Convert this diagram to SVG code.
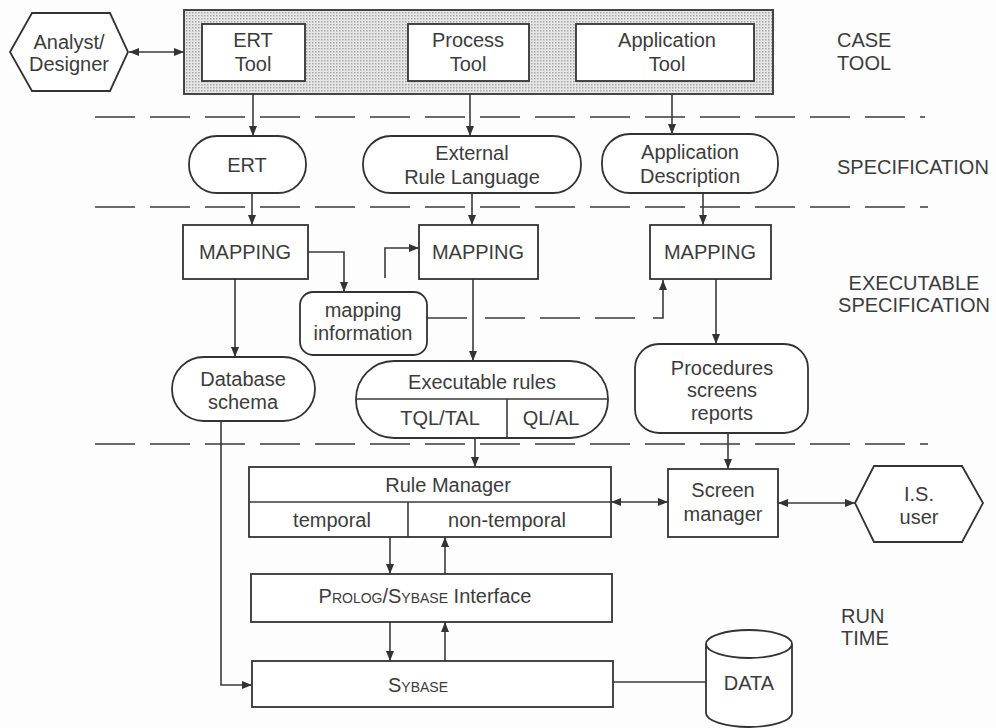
<svg xmlns="http://www.w3.org/2000/svg" width="996" height="728" viewBox="0 0 996 728">
  <defs>
    <style>
      .bg { fill: #fdfdfd; }
      .box { fill: #ffffff; stroke: #333; stroke-width: 1.8; }
      .shade { fill: url(#dots); stroke: #333; stroke-width: 1.8; }
      .ln { fill: none; stroke: #3a3a3a; stroke-width: 1.6; }
      .arr { marker-end: url(#ah); }
      .dbl { marker-start: url(#ah); marker-end: url(#ah); }
      .dash { fill: none; stroke: #3a3a3a; stroke-width: 1.6; stroke-dasharray: 40 15; }
      text { font-family: "Liberation Sans", Arial, sans-serif; font-size: 20px; fill: #3c3c3c; }
      .c { text-anchor: middle; }
      .sc { font-variant: small-caps; }
    </style>
    <pattern id="dots" width="3" height="3" patternUnits="userSpaceOnUse">
      <rect width="3" height="3" fill="#e6e6e6"/>
      <rect x="0" y="0" width="1.5" height="1.5" fill="#a8a8a8"/>
    </pattern>
    <marker id="ah" viewBox="0 0 10 8" refX="10" refY="4" markerWidth="10" markerHeight="8" markerUnits="userSpaceOnUse" orient="auto-start-reverse">
      <path d="M0,0 L10,4 L0,8 z" fill="#333"/>
    </marker>
  </defs>

  <rect class="bg" width="996" height="728"/>

  <!-- layer separators -->
  <g id="separators">
    <line class="dash" x1="95" y1="117" x2="925" y2="117"/>
    <line class="dash" x1="95" y1="207" x2="928" y2="207"/>
    <line class="dash" x1="95" y1="444" x2="928" y2="444"/>
  </g>

  <!-- layer labels -->
  <g id="layer-labels">
    <text x="837" y="47">CASE</text>
    <text x="837" y="70">TOOL</text>
    <text x="837" y="174">SPECIFICATION</text>
    <text class="c" x="914" y="290">EXECUTABLE</text>
    <text class="c" x="914" y="312">SPECIFICATION</text>
    <text x="841" y="623">RUN</text>
    <text x="841" y="645">TIME</text>
  </g>

  <!-- connectors -->
  <g id="connectors">
    <line class="ln dbl" x1="129" y1="52" x2="184" y2="52"/>
    <line class="ln arr" x1="253" y1="81" x2="253" y2="136"/>
    <line class="ln arr" x1="470" y1="81" x2="470" y2="136"/>
    <line class="ln arr" x1="672" y1="81" x2="672" y2="134"/>
    <line class="ln arr" x1="252" y1="193" x2="252" y2="225"/>
    <line class="ln arr" x1="472" y1="193" x2="472" y2="225"/>
    <line class="ln arr" x1="703" y1="193" x2="703" y2="225"/>
    <path class="ln arr" d="M308,252 H344 V292"/>
    <path class="ln arr" d="M385,278 V248 H419"/>
    <line class="ln" x1="427" y1="318" x2="467" y2="318"/>
    <line class="dash" x1="485" y1="318" x2="650" y2="318"/>
    <path class="ln arr" d="M653,318 H663 V280"/>
    <line class="ln arr" x1="235" y1="279" x2="235" y2="357"/>
    <line class="ln arr" x1="473" y1="279" x2="473" y2="361"/>
    <line class="ln arr" x1="716" y1="279" x2="716" y2="344"/>
    <path class="ln arr" d="M221,421 V685 H252"/>
    <line class="ln arr" x1="475" y1="438" x2="475" y2="467"/>
    <line class="ln arr" x1="728" y1="433" x2="728" y2="469"/>
    <line class="ln dbl" x1="611" y1="502" x2="668" y2="502"/>
    <line class="ln dbl" x1="778" y1="503" x2="855" y2="503"/>
    <line class="ln arr" x1="390" y1="537" x2="390" y2="574"/>
    <line class="ln arr" x1="445" y1="574" x2="445" y2="537"/>
    <line class="ln arr" x1="390" y1="622" x2="390" y2="661"/>
    <line class="ln arr" x1="445" y1="661" x2="445" y2="622"/>
    <line class="ln" x1="613" y1="682" x2="706" y2="682"/>
  </g>

  <!-- CASE tool frame -->
  <g id="case-tool">
    <rect class="shade" x="184" y="10" width="589" height="84"/>
  </g>

  <g id="analyst">
    <polygon class="box" points="10,52 32,13 110,13 128,52 110,91 32,91"/>
    <text class="c" x="69" y="49">Analyst/</text>
    <text class="c" x="69" y="71">Designer</text>
  </g>

  <g id="ert-tool">
    <rect class="box" x="202" y="24" width="103" height="57"/>
    <text class="c" x="253" y="47">ERT</text>
    <text class="c" x="253" y="71">Tool</text>
  </g>

  <g id="process-tool">
    <rect class="box" x="408" y="24" width="121" height="57"/>
    <text class="c" x="468" y="47">Process</text>
    <text class="c" x="468" y="71">Tool</text>
  </g>

  <g id="application-tool">
    <rect class="box" x="576" y="24" width="178" height="57"/>
    <text class="c" x="667" y="47">Application</text>
    <text class="c" x="667" y="71">Tool</text>
  </g>

  <g id="ert">
    <rect class="box" x="189" y="136" width="117" height="57" rx="28" ry="28"/>
    <text class="c" x="247" y="172">ERT</text>
  </g>

  <g id="external-rule-language">
    <rect class="box" x="363" y="136" width="218" height="57" rx="28" ry="28"/>
    <text class="c" x="472" y="160">External</text>
    <text class="c" x="472" y="184">Rule Language</text>
  </g>

  <g id="application-description">
    <rect class="box" x="602" y="134" width="176" height="59" rx="28" ry="28"/>
    <text class="c" x="690" y="159">Application</text>
    <text class="c" x="690" y="183">Description</text>
  </g>

  <g id="mapping-1">
    <rect class="box" x="183" y="225" width="125" height="54"/>
    <text class="c" x="245" y="259">MAPPING</text>
  </g>

  <g id="mapping-2">
    <rect class="box" x="419" y="225" width="119" height="54"/>
    <text class="c" x="478" y="259">MAPPING</text>
  </g>

  <g id="mapping-3">
    <rect class="box" x="650" y="225" width="121" height="54"/>
    <text class="c" x="710" y="259">MAPPING</text>
  </g>

  <g id="mapping-information">
    <rect class="box" x="300" y="292" width="127" height="63" rx="13" ry="13"/>
    <text class="c" x="363" y="317">mapping</text>
    <text class="c" x="363" y="340">information</text>
  </g>

  <g id="database-schema">
    <rect class="box" x="172" y="357" width="143" height="64" rx="32" ry="32"/>
    <text class="c" x="243" y="386">Database</text>
    <text class="c" x="243" y="409">schema</text>
  </g>

  <g id="executable-rules">
    <rect class="box" x="356" y="361" width="252" height="77" rx="38" ry="38"/>
    <line class="ln" x1="356" y1="399" x2="608" y2="399"/>
    <line class="ln" x1="507" y1="399" x2="507" y2="438"/>
    <text class="c" x="482" y="389">Executable rules</text>
    <text class="c" x="440" y="425">TQL/TAL</text>
    <text class="c" x="551" y="425">QL/AL</text>
  </g>

  <g id="procedures">
    <rect class="box" x="635" y="344" width="173" height="89" rx="24" ry="24"/>
    <text class="c" x="722" y="375">Procedures</text>
    <text class="c" x="722" y="397">screens</text>
    <text class="c" x="722" y="420">reports</text>
  </g>

  <g id="rule-manager">
    <rect class="box" x="249" y="467" width="362" height="70"/>
    <line class="ln" x1="249" y1="502" x2="611" y2="502"/>
    <line class="ln" x1="408" y1="502" x2="408" y2="537"/>
    <text class="c" x="448" y="492">Rule Manager</text>
    <text class="c" x="332" y="527">temporal</text>
    <text class="c" x="507" y="527">non-temporal</text>
  </g>

  <g id="screen-manager">
    <rect class="box" x="668" y="469" width="110" height="68"/>
    <text class="c" x="723" y="497">Screen</text>
    <text class="c" x="723" y="521">manager</text>
  </g>

  <g id="is-user">
    <polygon class="box" points="855,503 874,466 962,466 983,503 962,542 874,542"/>
    <text class="c" x="919" y="501">I.S.</text>
    <text class="c" x="919" y="524">user</text>
  </g>

  <g id="prolog-sybase-interface">
    <rect class="box" x="251" y="574" width="361" height="48"/>
    <text class="c" x="425" y="603"><tspan class="sc">Prolog/Sybase</tspan> Interface</text>
  </g>

  <g id="sybase">
    <rect class="box" x="252" y="661" width="361" height="46"/>
    <text class="c sc" x="418" y="692">Sybase</text>
  </g>

  <g id="data">
    <path class="box" d="M706,644 V713 A43,14 0 0 0 792,713 V644"/>
    <ellipse class="box" cx="749" cy="644" rx="43" ry="14"/>
    <text class="c" x="749" y="690">DATA</text>
  </g>
</svg>
